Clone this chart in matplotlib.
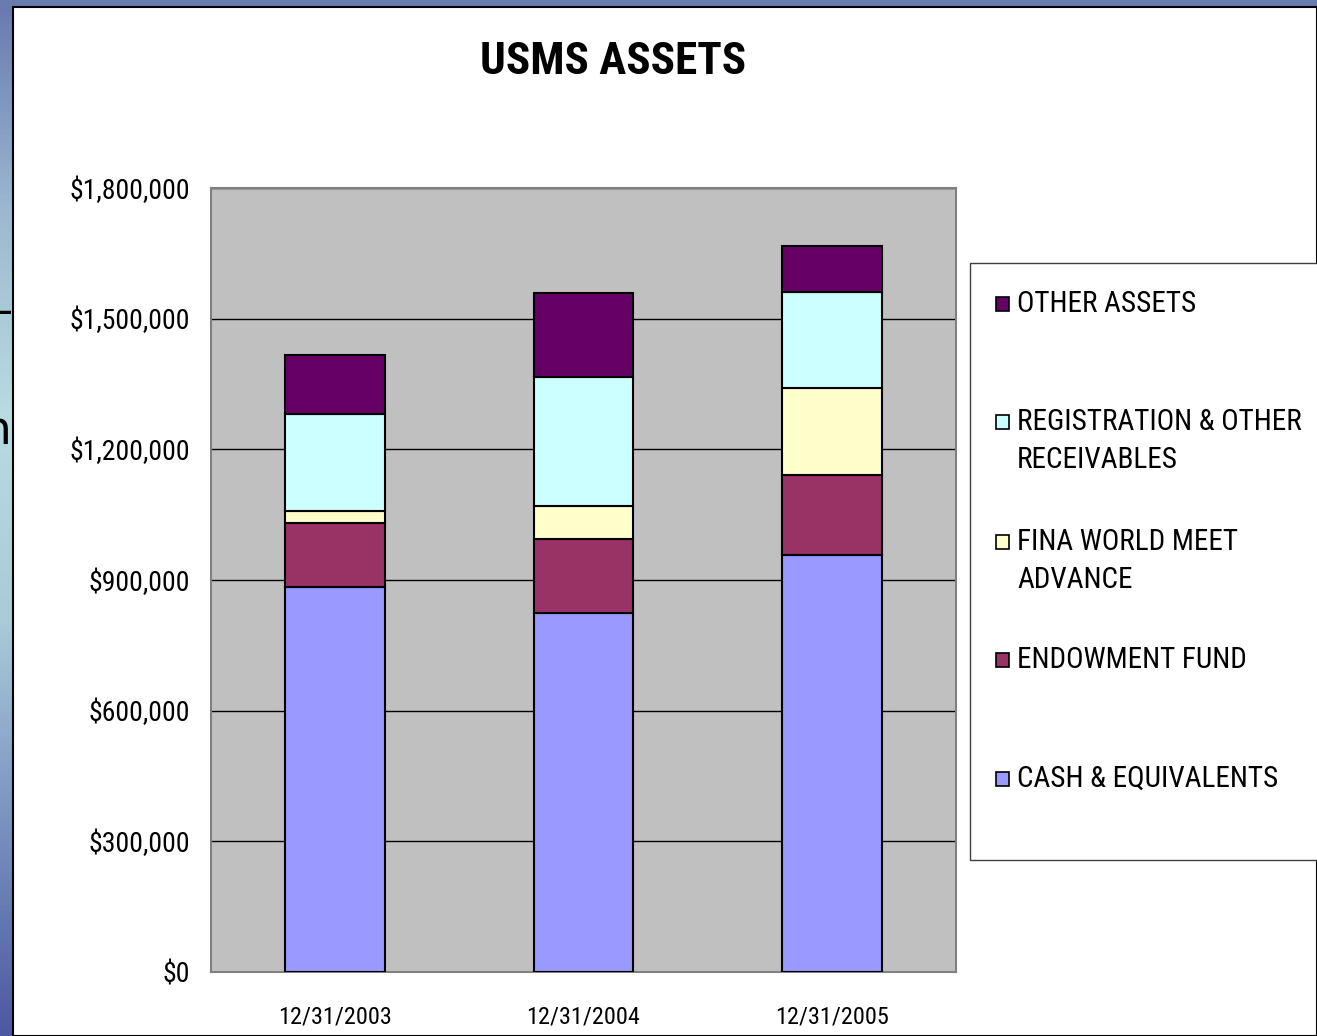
import numpy as np
import matplotlib
matplotlib.use('Agg')
import matplotlib.pyplot as plt
from matplotlib.patches import Rectangle
from matplotlib.colors import LinearSegmentedColormap
from matplotlib.ticker import FuncFormatter

plt.rcParams['font.family'] = ['Liberation Sans Narrow', 'Roboto Condensed', 'Archivo Narrow',
                               'Liberation Sans', 'DejaVu Sans']

# Data (USD)
dates = ['12/31/2003', '12/31/2004', '12/31/2005']
cash = [884600, 825000, 957400]
endowment = [147000, 168400, 182900]
fina = [26100, 77200, 201300]
registration = [224100, 295500, 220400]
other = [134100, 192100, 105600]

series_names = ['CASH & EQUIVALENTS', 'ENDOWMENT FUND', 'FINA WORLD MEET\nADVANCE',
                'REGISTRATION & OTHER\nRECEIVABLES', 'OTHER ASSETS']
series_colors = ['#9999FF', '#993366', '#FFFFCC', '#CCFFFF', '#660066']
y_ticks = [0, 300000, 600000, 900000, 1200000, 1500000, 1800000]

W, H = 1317, 1036
fig = plt.figure(figsize=(W / 100, H / 100), dpi=100)

def fx(x):
    return x / W

def fy(y):
    return 1 - y / H

# slide background: blue gradient strip on the left and top
bg = fig.add_axes([0, 0, 1, 1])
bg.set_axis_off()
cmap = LinearSegmentedColormap.from_list('slide', ['#6878B0', '#9CB8D0', '#B8DCE0', '#A8CCD8', '#7890C0', '#4C58A0'])
grad = np.linspace(0, 1, 256).reshape(-1, 1)
bg.imshow(grad, aspect='auto', cmap=cmap, extent=[0, 1, 0, 1], origin='upper')
bg.set_xlim(0, 1)
bg.set_ylim(0, 1)
# top strip
fig.patches.append(Rectangle((0, fy(7)), 1, 1 - fy(7), transform=fig.transFigure,
                             facecolor='#6A7BB0', edgecolor='none', zorder=0.5))
# cut-off slide text at the left edge
fig.text(fx(-2), fy(312), '-', fontsize=30, ha='left', va='center', color='black',
         family=['DejaVu Sans'])
fig.text(fx(12), fy(432), 'n', fontsize=34, ha='right', va='center', color='black',
         family=['DejaVu Sans'])
# white chart area
fig.patches.append(Rectangle((fx(13), 0), 1 - fx(13), fy(7), transform=fig.transFigure,
                             facecolor='white', edgecolor='black', linewidth=1.5, zorder=1))

# plot area
ax = fig.add_axes([fx(211), fy(972), fx(956) - fx(211), fy(188) - fy(972)], zorder=2)
ax.set_facecolor('#C0C0C0')
x = np.arange(len(dates))
bottom = np.zeros(len(dates))
for vals, name, col in zip([cash, endowment, fina, registration, other], series_names, series_colors):
    ax.bar(x, vals, width=0.4, bottom=bottom, color=col, edgecolor='black',
           linewidth=1.5, zorder=3, label=name)
    bottom += np.array(vals)

ax.set_xlim(-0.5, 2.5)
ax.set_ylim(0, 1800000)
ax.set_yticks(y_ticks)
ax.yaxis.set_major_formatter(FuncFormatter(lambda v, p: '${:,.0f}'.format(v)))
ax.set_xticks(x)
ax.set_xticklabels(dates)
ax.grid(axis='y', color='black', linewidth=1)
ax.set_axisbelow(True)
ax.tick_params(axis='both', length=0)
ax.tick_params(axis='y', pad=15, labelsize=20)
ax.tick_params(axis='x', pad=24, labelsize=17.5)
for s in ax.spines.values():
    s.set_color('#808080')
    s.set_linewidth(1.5)

fig.text(fx(613), fy(62), 'USMS ASSETS', fontsize=32.5, fontweight='bold',
         ha='center', va='center')

# legend box (entries listed top to bottom)
fig.patches.append(Rectangle((fx(970), fy(860)), fx(1340) - fx(970), fy(263) - fy(860),
                             transform=fig.transFigure, facecolor='white',
                             edgecolor='#404040', linewidth=1, zorder=3))
entry_y = [304, 441, 561, 660, 779]
first_line_y = [304, 422, 542, 660, 779]
for i, (name, col) in enumerate(zip(series_names[::-1], series_colors[::-1])):
    fig.patches.append(Rectangle((fx(996), fy(first_line_y[i] + 7)), fx(13), 14 / H,
                                 transform=fig.transFigure, facecolor=col,
                                 edgecolor='black', linewidth=1.2, zorder=4))
    fig.text(fx(1017), fy(entry_y[i]), name, fontsize=21, ha='left', va='center',
             linespacing=1.45, zorder=5)

fig.savefig('out.png', dpi=100)
